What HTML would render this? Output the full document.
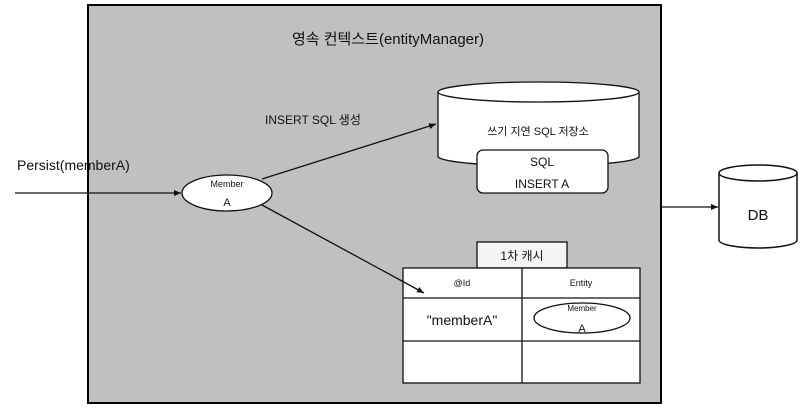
<!DOCTYPE html>
<html><head><meta charset="utf-8"><style>
body{margin:0;background:#fff;}
text{font-family:"Liberation Sans","Noto Sans CJK KR",sans-serif;fill:#111;}
</style></head><body>
<svg width="812" height="413" viewBox="0 0 812 413" xmlns="http://www.w3.org/2000/svg">
<defs><marker id="a" markerWidth="8" markerHeight="8" refX="7" refY="4" orient="auto" markerUnits="userSpaceOnUse"><path d="M0,1 L7,4 L0,7 Z" fill="#111"/></marker></defs>
<rect x="88" y="5" width="573" height="398" fill="#c0c0c0" stroke="#000" stroke-width="2"/>
<text x="388" y="44" font-size="15" text-anchor="middle">영속 컨텍스트(entityManager)</text>
<line x1="15" y1="193" x2="181" y2="193" stroke="#111" stroke-width="1.3" marker-end="url(#a)"/>
<text x="17" y="170" font-size="14">Persist(memberA)</text>
<ellipse cx="227" cy="193" rx="45" ry="18" fill="#fff" stroke="#111" stroke-width="1.3"/>
<text x="227" y="187" font-size="9" text-anchor="middle">Member</text>
<text x="227" y="206" font-size="11" text-anchor="middle">A</text>
<line x1="262" y1="179" x2="436" y2="124" stroke="#111" stroke-width="1.3" marker-end="url(#a)"/>
<text x="265" y="124" font-size="12">INSERT SQL 생성</text>
<path d="M438,92 L438,157 A101,10 0 0 0 639,157 L639,92" fill="#fff" stroke="#111" stroke-width="1.3"/>
<ellipse cx="538.5" cy="92" rx="100.5" ry="10" fill="#fff" stroke="#111" stroke-width="1.3"/>
<text x="538" y="135" font-size="11" text-anchor="middle">쓰기 지연 SQL 저장소</text>
<rect x="477" y="150" width="131" height="43" rx="6" fill="#fff" stroke="#111" stroke-width="1.3"/>
<text x="542" y="166" font-size="12" text-anchor="middle">SQL</text>
<text x="542" y="188" font-size="12" text-anchor="middle">INSERT A</text>
<rect x="477" y="242" width="90" height="26" fill="#f4f4f4" stroke="#111" stroke-width="1.3"/>
<text x="522" y="260" font-size="12" text-anchor="middle">1차 캐시</text>
<rect x="403" y="268" width="237" height="115" fill="#fff" stroke="#111" stroke-width="1.3"/>
<line x1="522" y1="268" x2="522" y2="383" stroke="#111" stroke-width="1.3"/>
<line x1="403" y1="298" x2="640" y2="298" stroke="#111" stroke-width="1.3"/>
<line x1="403" y1="341" x2="640" y2="341" stroke="#111" stroke-width="1.3"/>
<text x="462" y="286" font-size="9" text-anchor="middle">@Id</text>
<text x="581" y="286" font-size="9" text-anchor="middle">Entity</text>
<text x="462" y="325" font-size="14" text-anchor="middle">"memberA"</text>
<ellipse cx="582" cy="318" rx="48" ry="15" fill="#fff" stroke="#111" stroke-width="1.3"/>
<text x="582" y="311" font-size="8" text-anchor="middle">Member</text>
<text x="582" y="332" font-size="11" text-anchor="middle">A</text>
<line x1="262" y1="205" x2="424" y2="293" stroke="#111" stroke-width="1.3" marker-end="url(#a)"/>
<line x1="661" y1="207" x2="718" y2="207" stroke="#111" stroke-width="1.3" marker-end="url(#a)"/>
<path d="M719,173 L719,240 A39,8 0 0 0 797,240 L797,173" fill="#fff" stroke="#111" stroke-width="1.5"/>
<ellipse cx="758" cy="173" rx="39" ry="8" fill="#fff" stroke="#111" stroke-width="1.5"/>
<text x="758" y="220" font-size="15" text-anchor="middle">DB</text>
</svg>
</body></html>
